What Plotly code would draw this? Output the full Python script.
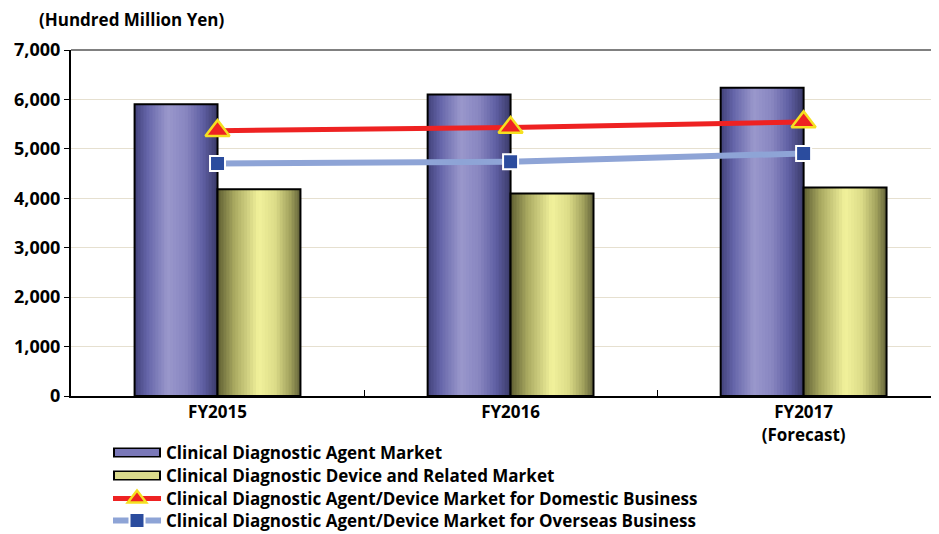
import plotly.graph_objects as go

categories = ["FY2015", "FY2016", "FY2017<br>(Forecast)"]
agent_market = [5900, 6100, 6235]
device_market = [4185, 4097, 4220]
domestic_market = [5368, 5430, 5545]
overseas_market = [4705, 4737, 4907]
y_ticks = [0, 1000, 2000, 3000, 4000, 5000, 6000, 7000]
y_tick_labels = ["0", "1,000", "2,000", "3,000", "4,000", "5,000", "6,000", "7,000"]

names = [
    "Clinical Diagnostic Agent Market",
    "Clinical Diagnostic Device and Related Market",
    "Clinical Diagnostic Agent/Device Market for Domestic Business",
    "Clinical Diagnostic Agent/Device Market for Overseas Business",
]

FONT = "Open Sans"
BAR_W = 0.283
N_SLICES = 28
FIG_W, FIG_H = 931, 526   # page body adds an 8px offset


def hex2rgb(h):
    h = h.lstrip("#")
    return tuple(int(h[i:i + 2], 16) for i in (0, 2, 4))


def grad(stops, t):
    for (p0, c0), (p1, c1) in zip(stops[:-1], stops[1:]):
        if p0 <= t <= p1:
            f = (t - p0) / (p1 - p0) if p1 > p0 else 0
            a, b = hex2rgb(c0), hex2rgb(c1)
            return "rgb(%d,%d,%d)" % tuple(round(a[k] + (b[k] - a[k]) * f) for k in range(3))
    return stops[-1][1]


agent_stops = [(0, "#42427a"), (0.15, "#6464a8"), (0.4, "#9a98cc"), (0.62, "#8886c0"),
               (0.82, "#6060a4"), (1, "#3a3a68")]
device_stops = [(0, "#5e5e32"), (0.2, "#a8a860"), (0.5, "#f2f29c"), (0.7, "#dcdc88"),
                (0.88, "#a0a05c"), (1, "#62623a")]

fig = go.Figure()


def gradient_bars(values, start, stops):
    step = BAR_W / N_SLICES
    for i in range(N_SLICES):
        t = (i + 0.5) / N_SLICES
        w = step * 1.7 if i < N_SLICES - 1 else step
        fig.add_trace(go.Bar(x=categories, y=values, width=w,
                             offset=start + i * step, showlegend=False,
                             hoverinfo="skip",
                             marker=dict(color=grad(stops, t), line=dict(width=0))))
    fig.add_trace(go.Bar(x=categories, y=values, width=BAR_W, offset=start, showlegend=False,
                         marker=dict(color="rgba(0,0,0,0)", line=dict(color="black", width=2))))


gradient_bars(agent_market, -BAR_W, agent_stops)
gradient_bars(device_market, 0, device_stops)

fig.add_trace(go.Scatter(x=categories, y=overseas_market, name=names[3], mode="lines+markers",
                         legend="legend4",
                         line=dict(color="#8ea4d6", width=6),
                         marker=dict(symbol="square", size=15, color="#2b4c9e",
                                     line=dict(color="white", width=2))))
fig.add_trace(go.Scatter(x=categories, y=domestic_market, name=names[2], mode="lines+markers",
                         legend="legend3",
                         line=dict(color="#ee2222", width=5),
                         marker=dict(symbol="triangle-up", size=21, color="#ee2222",
                                     line=dict(color="#f5e020", width=2.5))))

# legend carriers for the bar series: black outer band + coloured inner band
fig.add_trace(go.Scatter(x=[None], y=[None], mode="lines", name=names[0], legend="legend",
                         line=dict(color="black", width=11)))
fig.add_trace(go.Scatter(x=[None], y=[None], mode="lines", name=" ", legend="legend5",
                         line=dict(color="#7a78b8", width=7)))
fig.add_trace(go.Scatter(x=[None], y=[None], mode="lines", name=names[1], legend="legend2",
                         line=dict(color="black", width=11)))
fig.add_trace(go.Scatter(x=[None], y=[None], mode="lines", name=" ", legend="legend6",
                         line=dict(color="#dada8c", width=7)))

LEG_X = 100 / FIG_W
row_y = [445, 468, 491, 513]


def leg(row, dx=0.0, iw=48):
    return dict(xref="container", yref="container", x=LEG_X + dx / FIG_W,
                y=1 - row_y[row] / FIG_H, xanchor="left", yanchor="middle",
                font=dict(family=FONT, size=17, color="black", weight="bold"),
                itemwidth=iw, bgcolor="rgba(0,0,0,0)", borderwidth=0)


fig.update_layout(
    width=FIG_W, height=FIG_H,
    margin=dict(l=63, r=0, t=42, b=138, autoexpand=False),
    paper_bgcolor="white", plot_bgcolor="white",
    barmode="overlay",
    showlegend=True,
    font=dict(family=FONT, size=17, color="black"),
    legend=leg(0), legend2=leg(1), legend3=leg(2), legend4=leg(3),
    legend5=leg(0, dx=2, iw=44), legend6=leg(1, dx=2, iw=44),
    xaxis=dict(type="category", range=[-0.5, 2.462], showline=True, linecolor="black",
               linewidth=2, ticks="inside", tickson="boundaries", ticklen=6,
               tickcolor="black", tickwidth=1, showgrid=False, automargin=False,
               tickfont=dict(family=FONT, size=17, color="black", weight="bold")),
    yaxis=dict(range=[0, 7000], tickvals=y_ticks, ticktext=y_tick_labels,
               showline=True, linecolor="black", linewidth=2, ticks="outside",
               ticklen=5, tickcolor="black", gridcolor="#e6e0d0", gridwidth=1,
               zeroline=False, automargin=False,
               tickfont=dict(family=FONT, size=18, color="black", weight="bold")),
    shapes=[dict(type="line", xref="paper", yref="paper", x0=0, x1=1, y0=1, y1=1,
                 line=dict(color="#808080", width=2))],
    annotations=[dict(text="(Hundred Million Yen)", xref="paper", yref="paper",
                      x=-0.0392, y=1.088, xanchor="left", yanchor="middle", showarrow=False,
                      font=dict(family=FONT, size=17, color="black", weight="bold"))],
)

fig.write_html("out.html")
